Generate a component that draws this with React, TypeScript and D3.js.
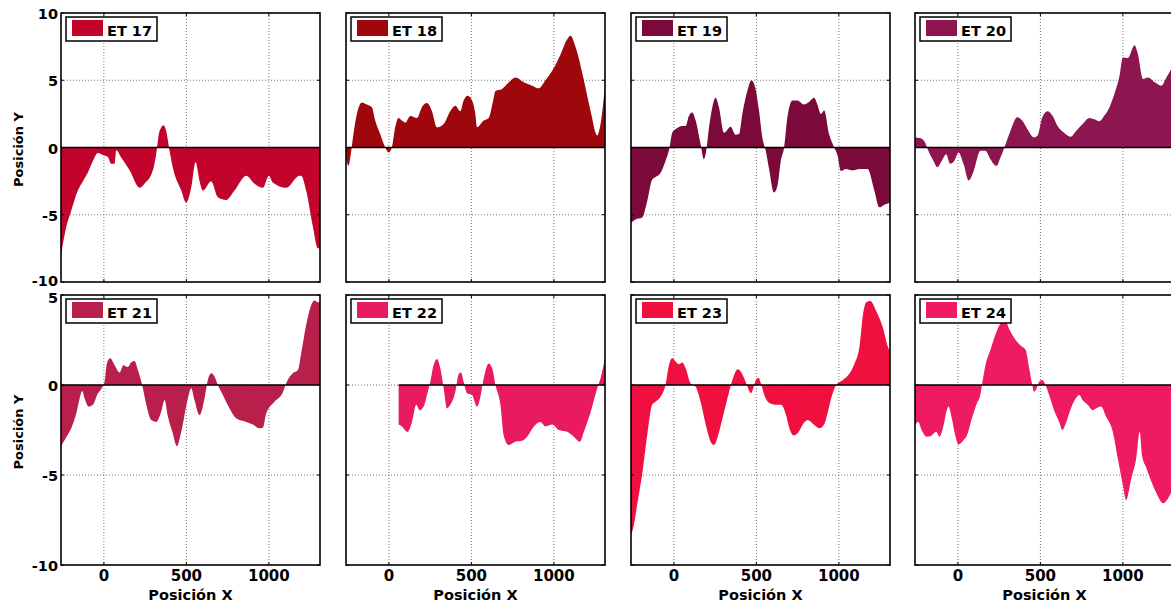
import React from "react";
import * as d3 from "d3";

// ---------- data ----------
const seriesNames = ["ET 17", "ET 18", "ET 19", "ET 20", "ET 21", "ET 22", "ET 23", "ET 24"];
const seriesColors = ["#C2042C", "#9E080C", "#7B0A3B", "#8E1650", "#B81F4A", "#E91A5E", "#EF1040", "#EE1B62"];

const et17: [number, number][] = [
  [-260, -8.0], [-228, -5.9], [-198, -4.7], [-158, -3.2], [-127, -2.5], [-97, -1.85], [-67, -1.0], [-36, -0.4],
  [-6, -0.55], [24, -0.7], [44, -1.2], [65, -1.2], [75, -0.2], [105, -0.75], [156, -1.7], [216, -3.0],
  [246, -2.7], [297, -1.7], [317, -0.5], [337, 1.2], [362, 1.65], [378, 1.2], [398, -0.25], [418, -1.5],
  [469, -3.2], [499, -4.1], [529, -3.0], [556, -1.1], [580, -2.5], [600, -3.2], [650, -2.5], [691, -3.7],
  [741, -3.9], [792, -3.2], [863, -2.1], [913, -2.7], [964, -3.0], [1000, -2.1], [1024, -2.6], [1105, -3.0],
  [1186, -2.1], [1196, -2.1], [1226, -3.2], [1267, -5.9], [1297, -7.5], [1310, -7.4],
];
const et18: [number, number][] = [
  [-260, -0.75], [-245, -1.35], [-231, -0.5], [-215, 1.0], [-194, 2.5], [-164, 3.35], [-134, 3.2], [-103, 3.0],
  [-83, 2.0], [-53, 1.0], [-22, 0], [-2, -0.37], [18, 0], [38, 1.5], [59, 2.2], [79, 2.0], [99, 1.85],
  [130, 2.35], [170, 2.2], [200, 3.0], [231, 3.3], [261, 2.7], [291, 1.5], [332, 1.75], [372, 2.7],
  [403, 3.1], [433, 2.7], [453, 3.5], [478, 3.85], [504, 3.5], [524, 2.5], [534, 1.5], [575, 2.0],
  [605, 2.2], [632, 3.5], [646, 4.2], [686, 4.35], [727, 4.85], [767, 5.2], [818, 4.85], [868, 4.6],
  [909, 4.4], [949, 5.0], [990, 5.7], [1040, 6.9], [1081, 8.05], [1101, 8.3], [1132, 7.45], [1182, 5.0],
  [1223, 2.7], [1263, 0.9], [1283, 1.75], [1310, 4.6],
];
const et19: [number, number][] = [
  [-260, -5.6], [-233, -5.35], [-192, -5.2], [-162, -4.0], [-132, -2.4], [-111, -2.2], [-81, -1.9], [-51, -1.0],
  [-26, 0], [-10, 1.1], [10, 1.35], [51, 1.6], [71, 1.6], [91, 2.35], [111, 2.6], [132, 2.0], [162, 0.25],
  [182, -0.87], [196, -0.25], [213, 1.5], [233, 3.0], [253, 3.7], [273, 3.0], [304, 1.1], [344, 1.55],
  [374, 0.95], [395, 1.0], [415, 2.5], [445, 4.2], [470, 5.0], [492, 4.5], [516, 2.75], [536, 0.75],
  [557, -0.25], [577, -1.6], [607, -3.35], [628, -2.85], [648, -1.0], [668, 0], [688, 2.25], [719, 3.5],
  [749, 3.5], [789, 3.2], [820, 3.4], [850, 3.7], [870, 3.2], [891, 2.5], [911, 2.75], [941, 1.0],
  [972, 0], [992, -0.6], [1012, -1.75], [1043, -1.6], [1083, -1.7], [1123, -1.6], [1174, -1.6],
  [1215, -3.2], [1245, -4.45], [1275, -4.25], [1310, -4.1],
];
const et20: [number, number][] = [
  [-260, 0.75], [-230, 0.7], [-199, 0.37], [-179, -0.25], [-148, -1.0], [-124, -1.45], [-98, -1.0], [-71, -0.5],
  [-47, -1.2], [-22, -1.0], [4, -0.37], [35, -1.25], [65, -2.45], [96, -1.75], [136, -0.25], [167, -0.25],
  [197, -0.87], [234, -1.37], [258, -0.75], [289, 0.25], [319, 1.25], [360, 2.25], [390, 2.0], [421, 1.37],
  [461, 0.75], [482, 0.87], [512, 2.25], [543, 2.7], [573, 2.37], [604, 1.6], [644, 1.1], [685, 0.8],
  [715, 1.2], [756, 1.75], [797, 2.2], [827, 2.1], [858, 1.95], [888, 2.37], [919, 3.0], [949, 4.0],
  [980, 5.35], [1000, 6.7], [1030, 6.65], [1071, 7.6], [1091, 6.95], [1122, 5.1], [1152, 5.2], [1193, 4.85],
  [1234, 4.6], [1264, 5.2], [1295, 5.85], [1310, 6.1],
];
const et21: [number, number][] = [
  [-260, -3.4], [-228, -2.9], [-198, -2.4], [-168, -1.6], [-147, -0.75], [-131, -0.33], [-117, -0.75],
  [-91, -1.2], [-67, -1.1], [-36, -0.46], [-16, -0.22], [4, 0.18], [18, 1.2], [38, 1.48], [65, 1.1],
  [95, 0.7], [119, 1.1], [145, 1.0], [166, 1.26], [186, 1.33], [206, 0.83], [232, 0], [257, -1.1],
  [287, -1.95], [317, -2.05], [347, -1.5], [368, -0.83], [388, -1.75], [418, -2.7], [442, -3.4], [469, -2.6],
  [509, -0.75], [529, -0.18], [549, -0.83], [580, -1.67], [610, -0.75], [630, 0.28], [651, 0.65], [671, 0.46],
  [691, 0], [721, -0.55], [762, -1.3], [802, -1.85], [863, -2.05], [903, -2.2], [943, -2.4], [964, -2.37],
  [984, -1.57], [1034, -0.93], [1085, -0.4], [1105, 0.1], [1145, 0.65], [1176, 0.83], [1196, 1.75],
  [1226, 3.33], [1257, 4.45], [1277, 4.7], [1297, 4.6], [1310, 4.6],
];
const et22: [number, number][] = [
  [59, -2.2], [79, -2.3], [113, -2.6], [140, -2.05], [166, -1.1], [186, -1.4], [211, -1.2], [231, -0.55],
  [251, 0.18], [271, 1.1], [291, 1.45], [312, 0.93], [332, -0.18], [352, -1.3], [372, -1.1], [403, -0.37],
  [423, 0.6], [437, 0.7], [453, 0.18], [474, -0.46], [504, -0.55], [534, -1.2], [555, -0.65], [575, 0.37],
  [605, 1.2], [626, 0.93], [646, 0], [676, -1.1], [696, -2.8], [727, -3.33], [767, -3.15], [808, -3.1],
  [838, -2.87], [879, -2.3], [919, -2.05], [949, -2.3], [990, -2.2], [1030, -2.5], [1081, -2.6],
  [1121, -2.87], [1158, -3.15], [1182, -2.6], [1223, -1.5], [1263, -0.18], [1283, 0.37], [1310, 1.5],
];
const et23: [number, number][] = [
  [-260, -8.33], [-243, -7.8], [-223, -6.67], [-193, -5.0], [-162, -2.8], [-132, -1.1], [-112, -0.93],
  [-81, -0.65], [-51, 0], [-30, 1.1], [-10, 1.5], [10, 1.3], [30, 1.15], [51, 1.25], [71, 0.93], [101, 0.1],
  [132, -0.1], [162, -0.93], [193, -2.2], [223, -3.15], [243, -3.33], [274, -2.6], [304, -1.5], [335, -0.37],
  [365, 0.55], [385, 0.87], [406, 0.74], [426, 0.37], [446, -0.1], [467, -0.46], [481, -0.18], [497, 0.28],
  [513, 0.4], [527, 0.1], [548, -0.55], [578, -1.0], [619, -1.1], [649, -1.1], [680, -1.67], [700, -2.4],
  [726, -2.8], [757, -2.6], [781, -2.2], [811, -1.95], [842, -2.15], [882, -2.4], [913, -2.15], [933, -1.5],
  [953, -0.75], [984, 0], [1024, 0.28], [1065, 0.65], [1095, 1.2], [1126, 2.2], [1146, 3.9], [1166, 4.6],
  [1191, 4.67], [1227, 4.1], [1268, 3.15], [1298, 2.1], [1310, 1.85],
];
const et24: [number, number][] = [
  [-260, -2.2], [-240, -2.05], [-220, -2.5], [-189, -2.87], [-159, -2.8], [-132, -2.6], [-112, -2.87],
  [-91, -2.4], [-67, -1.4], [-57, -1.2], [-37, -1.85], [-16, -2.8], [4, -3.3], [35, -3.05], [55, -2.8],
  [85, -1.85], [116, -1.0], [136, -0.55], [146, 0], [167, 1.1], [197, 1.95], [228, 2.8], [258, 3.43],
  [283, 3.7], [309, 3.15], [350, 2.5], [380, 2.2], [411, 1.95], [431, 1.0], [451, 0], [461, -0.37],
  [478, -0.18], [492, 0.18], [512, 0.28], [526, 0.1], [553, -0.55], [583, -1.4], [614, -2.05], [634, -2.5],
  [654, -2.13], [685, -1.3], [715, -0.74], [736, -0.55], [756, -0.83], [787, -1.1], [817, -1.4], [837, -1.3],
  [868, -1.2], [898, -1.75], [939, -2.6], [969, -4.07], [1000, -5.55], [1020, -6.4], [1051, -5.2],
  [1081, -4.07], [1102, -2.6], [1116, -3.9], [1142, -4.6], [1173, -5.37], [1203, -6.0], [1244, -6.57],
  [1274, -6.3], [1310, -5.6],
];
const seriesData = [et17, et18, et19, et20, et21, et22, et23, et24];

const xDomain: [number, number] = [-260, 1310];
const xTicks = [0, 500, 1000];
const topYDomain: [number, number] = [-10, 10];
const topYTicks = [10, 5, 0, -5, -10];
const bottomYDomain: [number, number] = [-10, 5];
const bottomYTicks = [5, 0, -5, -10];

// ---------- layout ----------
const W = 1171;
const H = 606;
const colLefts = [61, 346, 631, 915];
const panelW = 259;
const rows = [
  { top: 13, bottom: 282, domain: topYDomain, ticks: topYTicks },
  { top: 295, bottom: 565, domain: bottomYDomain, ticks: bottomYTicks },
];
const FONT = "'DejaVu Sans', Arial, sans-serif";

function Panel({ idx }: { idx: number }) {
  const col = idx % 4;
  const r = Math.floor(idx / 4);
  const row = rows[r];
  const left = colLefts[col];
  const right = left + panelW;
  const x = d3.scaleLinear().domain(xDomain).range([left, right]);
  const y = d3.scaleLinear().domain(row.domain).range([row.bottom, row.top]);
  const data = seriesData[idx];
  const color = seriesColors[idx];
  const area = d3
    .area<[number, number]>()
    .x((d) => x(d[0]))
    .y0(y(0))
    .y1((d) => y(d[1]))
    .curve(d3.curveMonotoneX);
  const clipId = `clip-${idx}`;
  const gridY = row.ticks.filter((t) => t !== row.domain[0] && t !== row.domain[1]);
  const xMin = d3.min(data, (d) => d[0]) as number;
  const xMax = d3.max(data, (d) => d[0]) as number;
  // nudge labels at panel edges so neighbouring rows' labels don't collide
  const yLabelPos = (t: number) => {
    if (r === 0 && t === row.domain[0]) return y(t) - 1;
    if (r === 1 && t === row.domain[1]) return y(t) + 3;
    return y(t) + 1;
  };
  return (
    <g>
      <defs>
        <clipPath id={clipId}>
          <rect x={left} y={row.top} width={panelW} height={row.bottom - row.top} />
        </clipPath>
      </defs>
      <rect x={left} y={row.top} width={panelW} height={row.bottom - row.top} fill="#fff" />
      {xTicks.map((t) => (
        <line key={"gx" + t} x1={x(t)} x2={x(t)} y1={row.top} y2={row.bottom} stroke="#777" strokeWidth={1} strokeDasharray="1,2" />
      ))}
      {gridY.map((t) => (
        <line key={"gy" + t} x1={left} x2={right} y1={y(t)} y2={y(t)} stroke="#777" strokeWidth={1} strokeDasharray="1,2" />
      ))}
      <g clipPath={`url(#${clipId})`}>
        <path d={area(data) || ""} fill={color} />
        <line x1={x(xMin)} x2={x(xMax)} y1={y(0)} y2={y(0)} stroke="#000" strokeWidth={1.6} />
      </g>
      {xTicks.map((t) => (
        <g key={"tx" + t}>
          <line x1={x(t)} x2={x(t)} y1={row.bottom} y2={row.bottom - 3} stroke="#000" />
          <line x1={x(t)} x2={x(t)} y1={row.top} y2={row.top + 3} stroke="#000" />
        </g>
      ))}
      {row.ticks.map((t) => (
        <g key={"ty" + t}>
          <line x1={left} x2={left + 3} y1={y(t)} y2={y(t)} stroke="#000" />
          <line x1={right} x2={right - 3} y1={y(t)} y2={y(t)} stroke="#000" />
        </g>
      ))}
      <rect x={left} y={row.top} width={panelW} height={row.bottom - row.top} fill="none" stroke="#000" strokeWidth={1.6} />
      {/* legend */}
      <rect x={left + 5} y={row.top + 4} width={91} height={24} fill="#fff" stroke="#000" strokeWidth={1.5} />
      <rect x={left + 11} y={row.top + 7} width={31} height={16} fill={color} />
      <text x={left + 46} y={row.top + 23} fontFamily={FONT} fontWeight="bold" fontSize={14.5} fill="#000">
        {seriesNames[idx]}
      </text>
      {col === 0 &&
        row.ticks.map((t) => (
          <text key={"yl" + t} x={left - 3} y={yLabelPos(t)} dy="0.36em" textAnchor="end" fontFamily={FONT} fontWeight="bold" fontSize={14.5} fill="#000">
            {t}
          </text>
        ))}
      {col === 0 && (
        <text
          transform={`translate(18,${(row.top + row.bottom) / 2 + 2}) rotate(-90)`}
          textAnchor="middle"
          dy="0.36em"
          fontFamily={FONT}
          fontWeight="bold"
          fontSize={13}
          fill="#000"
        >
          Posición Y
        </text>
      )}
      {r === 1 &&
        xTicks.map((t) => (
          <text key={"xl" + t} x={x(t)} y={576} dy="0.36em" textAnchor="middle" fontFamily={FONT} fontWeight="bold" fontSize={15} fill="#000">
            {t}
          </text>
        ))}
      {r === 1 && (
        <text x={(left + right) / 2} y={595} dy="0.36em" textAnchor="middle" fontFamily={FONT} fontWeight="bold" fontSize={14.5} fill="#000">
          Posición X
        </text>
      )}
    </g>
  );
}

export default function App() {
  return (
    <div style={{ position: "absolute", left: 0, top: 0, width: W, height: H, overflow: "hidden" }}>
      <svg width={W} height={H} viewBox={`0 0 ${W} ${H}`} style={{ display: "block", background: "#fff" }}>
        {seriesNames.map((_, i) => (
          <Panel key={i} idx={i} />
        ))}
      </svg>
    </div>
  );
}
